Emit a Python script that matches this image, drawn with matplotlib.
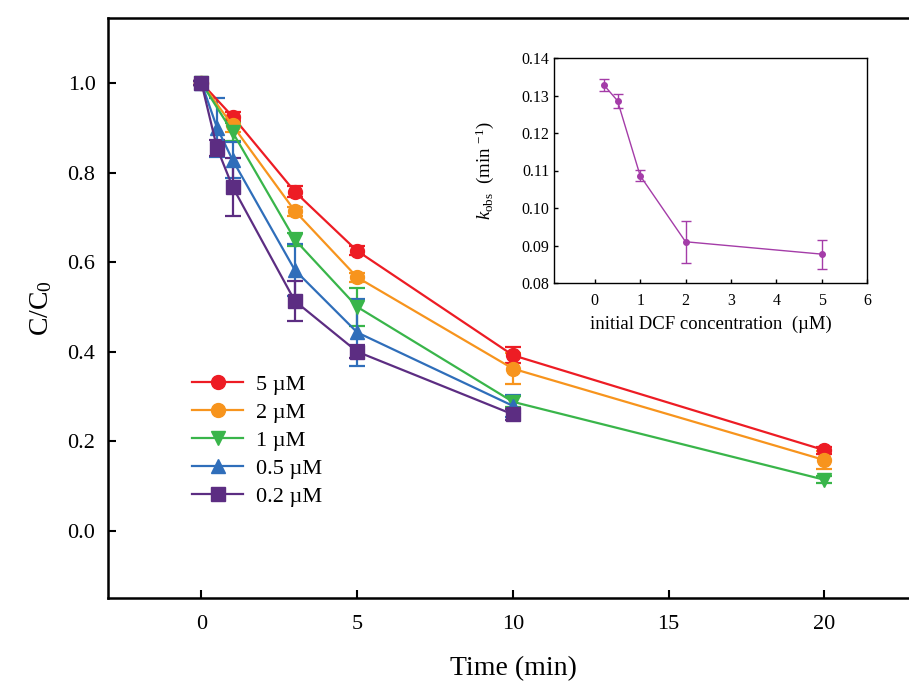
import matplotlib
matplotlib.use("Agg")
import matplotlib.pyplot as plt
from matplotlib.lines import Line2D

plt.rcParams["font.family"] = ["Liberation Serif", "DejaVu Serif"]
plt.rcParams["mathtext.fontset"] = "custom"
plt.rcParams["mathtext.rm"] = "Liberation Serif"
plt.rcParams["mathtext.it"] = "Liberation Serif:italic"

# main panel: C/C0 vs time for each initial DCF concentration
labels = ["5 µM", "2 µM", "1 µM", "0.5 µM", "0.2 µM"]
colors = ["#ED1C24", "#F7941D", "#39B54A", "#2F6EBA", "#5C2D82"]
markers = ["o", "o", "v", "^", "s"]

t_5 = [0, 1, 3, 5, 10, 20]
c_5 = [1.0, 0.925, 0.757, 0.625, 0.392, 0.180]
e_5 = [0.005, 0.010, 0.012, 0.010, 0.018, 0.008]

t_2 = [0, 1, 3, 5, 10, 20]
c_2 = [1.0, 0.905, 0.714, 0.566, 0.362, 0.158]
e_2 = [0.005, 0.015, 0.010, 0.010, 0.034, 0.021]

t_1 = [0, 1, 3, 5, 10, 20]
c_1 = [1.0, 0.890, 0.650, 0.500, 0.288, 0.114]
e_1 = [0.005, 0.020, 0.015, 0.043, 0.012, 0.008]

t_05 = [0, 0.5, 1, 3, 5, 10]
c_05 = [1.0, 0.900, 0.828, 0.582, 0.443, 0.279]
e_05 = [0.005, 0.066, 0.040, 0.058, 0.075, 0.025]

t_02 = [0, 0.5, 1, 3, 5, 10]
c_02 = [1.0, 0.855, 0.768, 0.513, 0.400, 0.260]
e_02 = [0.005, 0.018, 0.065, 0.045, 0.015, 0.012]

times = [t_5, t_2, t_1, t_05, t_02]
ratios = [c_5, c_2, c_1, c_05, c_02]
errors = [e_5, e_2, e_1, e_05, e_02]

# inset: k_obs vs initial concentration
conc = [0.2, 0.5, 1, 2, 5]
kobs = [0.1328, 0.1286, 0.1086, 0.0910, 0.0877]
kobs_err = [0.0016, 0.0019, 0.0015, 0.0056, 0.0039]

fig = plt.figure(figsize=(9.09, 6.84), dpi=100)
ax = fig.add_axes([0.1188, 0.1257, 0.891, 0.848])

handles = []
for t, c, e, lab, col, mk in zip(times, ratios, errors, labels, colors, markers):
    ax.errorbar(t, c, yerr=e, color=col, marker=mk, markersize=10, linewidth=1.6,
                elinewidth=1.6, capsize=5.5, capthick=1.6)
    handles.append(Line2D([], [], color=col, marker=mk, markersize=10, linewidth=1.6, label=lab))

ax.set_xlim(-3, 23)
ax.set_ylim(-0.15, 1.145)
ax.set_xticks([0, 5, 10, 15, 20])
ax.set_yticks([0.0, 0.2, 0.4, 0.6, 0.8, 1.0])
ax.set_yticklabels(["0.0", "0.2", "0.4", "0.6", "0.8", "1.0"])
ax.tick_params(direction="in", length=6, width=1.5, labelsize=16)
ax.tick_params(axis="x", pad=12)
ax.tick_params(axis="y", pad=9)
for side in ["left", "bottom", "top"]:
    ax.spines[side].set_linewidth(1.8)
ax.spines["right"].set_visible(False)

ax.set_xlabel("Time (min)", fontsize=20)
ax.xaxis.set_label_coords(0.5, -0.1)
ax.set_ylabel("C/C$_0$", fontsize=20)
ax.yaxis.set_label_coords(-0.066, 0.5)

ax.legend(handles=handles, loc="upper left", bbox_to_anchor=(0.085, 0.413), frameon=False,
          fontsize=16, handlelength=2.3, handletextpad=0.55, labelspacing=0.34, borderpad=0.2)

# inset
ins = fig.add_axes([554 / 909, 1 - 283 / 684, (867 - 554) / 909, (283 - 58) / 684])
ins.errorbar(conc, kobs, yerr=kobs_err, color="#A43CA8", marker="o", markersize=4,
             linewidth=1.0, elinewidth=1.0, capsize=3.5, capthick=1.0)
ins.set_xlim(-0.9, 6)
ins.set_ylim(0.08, 0.14)
ins.set_xticks([0, 1, 2, 3, 4, 5, 6])
ins.set_yticks([0.08, 0.09, 0.10, 0.11, 0.12, 0.13, 0.14])
ins.set_yticklabels(["0.08", "0.09", "0.10", "0.11", "0.12", "0.13", "0.14"])
ins.tick_params(direction="in", length=3, width=1, labelsize=11.5)
ins.tick_params(axis="x", pad=7)
for sp in ins.spines.values():
    sp.set_linewidth(1.0)
ins.set_xlabel("initial DCF concentration  (µM)", fontsize=13.5, labelpad=5)
ins.set_ylabel(r"$k_{\mathrm{obs}}$  (min $^{-1}$)", fontsize=13.5, labelpad=18)

fig.savefig("out.png", dpi=100)
